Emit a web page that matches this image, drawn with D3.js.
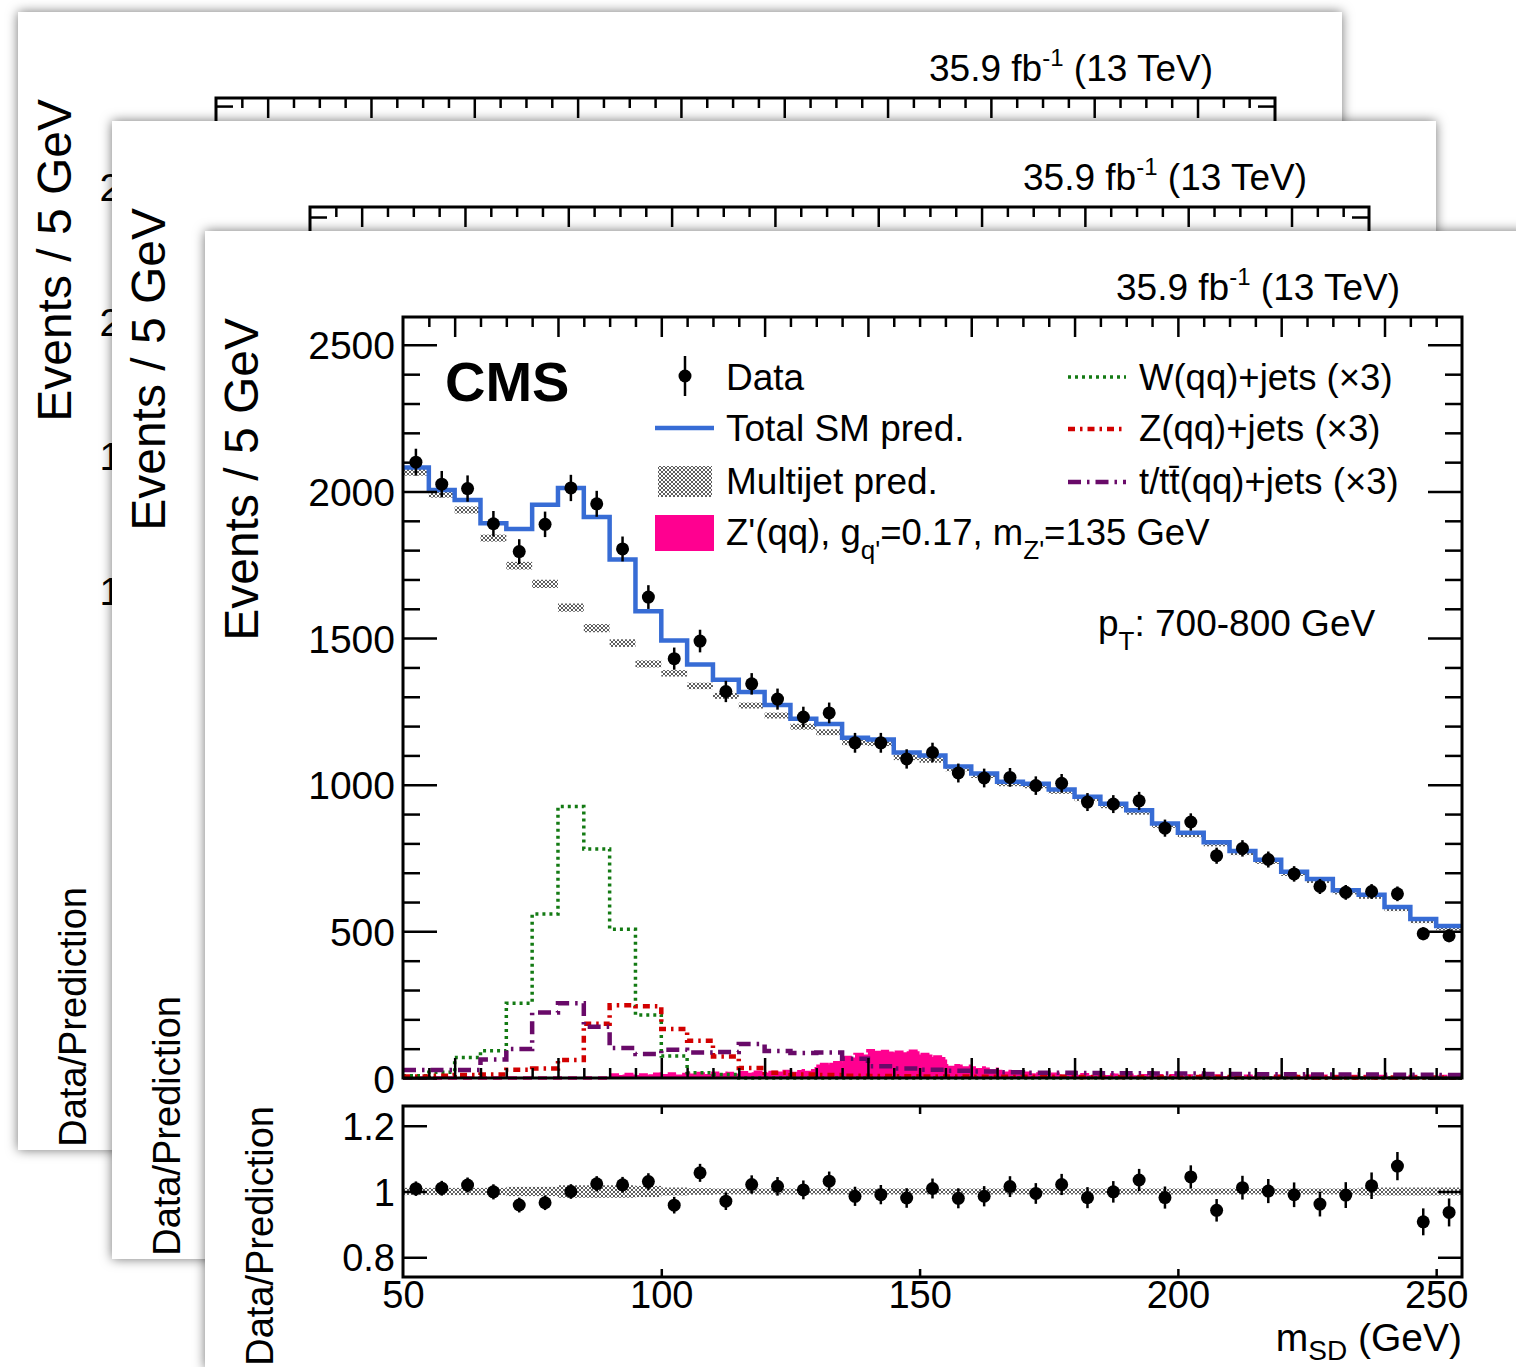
<!DOCTYPE html>
<html>
<head>
<meta charset="utf-8">
<title>Soft-drop jet mass, pT 700-800 GeV</title>
<script src="https://cdn.jsdelivr.net/npm/d3@7"></script>
<style>
  html, body { margin: 0; padding: 0; background: #ffffff; }
  svg { display: block; }
</style>
</head>
<body>
<svg id="figure" width="1516" height="1367"></svg>
<script>
// ---------------------------------------------------------------------------
// Soft-drop mass histogram, 5 GeV bins (low edges in GeV)
const binLow = [50,55,60,65,70,75,80,85,90,95,100,105,110,115,120,125,130,135,140,145,
                150,155,160,165,170,175,180,185,190,195,200,205,210,215,220,225,230,235,240,245,250];
const binWidth = 5;

// Observed events per bin
const dataCounts = [2100,2025,2010,1890,1795,1888,2012,1958,1804,1640,1430,1490,1318,1344,1292,
                    1231,1245,1143,1143,1088,1110,1040,1023,1025,997,1005,941,934,945,852,
                    873,758,783,745,696,653,633,636,628,492,485];

// Total SM prediction per bin
const totalPred = [2082,2005,1971,1892,1872,1955,2012,1913,1768,1592,1492,1410,1358,1316,1272,
                   1225,1207,1160,1154,1110,1100,1062,1038,1010,1003,984,959,935,913,868,
                   836,804,774,744,703,679,640,625,583,542,518];

// Multijet prediction and its uncertainty (half-width, events)
const multijet = [2066,1991,1937,1841,1747,1685,1604,1534,1483,1412,1380,1337,1303,1270,1236,
                  1198,1179,1145,1142,1094,1085,1055,1032,1004,997,978,953,929,907,862,
                  830,798,768,738,697,673,634,619,577,536,512];
const multijetErr = [12,12,12,12,13,14,14,14,13,12,11,11,10,10,10,10,10,10,10,10,
                     10,9,9,9,9,9,9,9,9,9,9,8,8,8,8,8,8,8,8,8,8];

// Relative prediction uncertainty shown in the ratio panel (half-width)
const ratioBandErr = [0.011,0.011,0.011,0.011,0.014,0.014,0.019,0.019,0.019,0.017,0.012,0.010,
                      0.009,0.009,0.009,0.009,0.009,0.009,0.009,0.009,0.009,0.009,0.009,0.009,
                      0.009,0.009,0.009,0.009,0.009,0.009,0.009,0.009,0.009,0.009,0.009,0.009,
                      0.009,0.012,0.012,0.012,0.012];

// Resonant backgrounds, each scaled by 3 for display
const wJetsX3 = [8,20,70,93,255,559,926,781,507,215,75,18,12,0,0,0,0,0,0,0,
                 0,0,0,0,0,0,0,0,0,0,0,0,0,0,0,0,0,0,0,0,0];
const zJetsX3 = [5,8,10,12,28,32,61,185,248,245,167,127,73,34,18,12,10,8,7,6,
                 5,5,4,4,4,4,3,3,3,3,3,3,3,3,3,2,2,2,2,2,2];
const topJetsX3 = [27,27,27,63,99,223,255,175,102,82,96,87,89,116,92,85,87,66,40,32,
                   28,25,22,20,18,18,17,16,16,15,15,14,14,13,13,12,12,12,11,11,10];

// Z' signal template, 2.5 GeV bins (low edges in GeV)
const sigLow = [50,52.5,55,57.5,60,62.5,65,67.5,70,72.5,75,77.5,80,82.5,85,87.5,
                90,92.5,95,97.5,100,102.5,105,107.5,110,112.5,
                115,117.5,120,122.5,125,127.5,130,132.5,135,137.5,
                140,142.5,145,147.5,150,152.5,155,157.5,160,162.5,
                165,167.5,170,172.5,175,177.5,180,182.5,185,187.5,
                190,192.5,195,197.5,200,202.5,205,207.5,210,212.5,
                215,217.5,220,222.5,225,227.5,230,232.5,235,237.5,
                240,242.5,245,247.5,250,252.5];
const sigWidth = 2.5;
const sigCounts = [0,0,0,0,0,0,0,0,0,0,0,0,0,0,0,0,
                   10,12,10,13,14,12,15,14,16,15,
                   18,20,19,22,21,25,46,52,70,80,
                   93,90,88,91,80,72,42,40,34,30,
                   22,19,16,14,13,12,11,10,10,9,
                   9,8,8,8,7,7,7,7,7,6,
                   6,6,6,6,6,6,5,5,5,5,
                   5,5,5,5,5,5];

// Axis ticks and labels
const xLabelTicks = [50,100,150,200,250];
const xMajorTicks = [60,80,100,120,140,160,180,200,220,240];
const ratioXTicks = [100,150,200,250];
const ratioYTicks = [0.8,1,1.2];
const ratioYLabels = ["0.8","1","1.2"];
const mainYTicks = [0,500,1000,1500,2000,2500];

// ---------------------------------------------------------------------------
const FONT = '"Liberation Sans", Arial, Helvetica, sans-serif';
const CARD = { w: 1324, h: 1138 };
const FR = { left: 198, right: 1257, top: 86, bottom: 847 };   // upper pad frame
const RP = { top: 875, bottom: 1046 };                          // ratio pad frame

const COL = {
  total: "#376cd5", w: "#137a13", z: "#d20000", top: "#690a69",
  sig: "#ff0090", tick: "#000"
};

// Three stacked pages; the pages behind only show their top and left margins
const cards = [
  { ox: 18,  oy: 12,  yMax: 28300, yMajor: [0,5000,10000,15000,20000,25000], yMinorStep: 1000,
    front: false, yLabels: true },
  { ox: 112, oy: 121, yMax: 7600,  yMajor: [0,2000,4000,6000],               yMinorStep: 500,
    front: false, yLabels: false },
  { ox: 205, oy: 231, yMax: 2595,  yMajor: mainYTicks,                        yMinorStep: 100,
    front: true, yLabels: true }
];

const svg = d3.select("#figure");
const defs = svg.append("defs");

const shadow = defs.append("filter").attr("id", "cardShadow")
  .attr("x", "-4%").attr("y", "-4%").attr("width", "108%").attr("height", "108%");
shadow.append("feDropShadow").attr("dx", 0).attr("dy", 0).attr("stdDeviation", 6)
  .attr("flood-color", "#000").attr("flood-opacity", 0.55);

const pat = defs.append("pattern").attr("id", "mjFill")
  .attr("patternUnits", "userSpaceOnUse").attr("width", 4).attr("height", 4);
pat.append("rect").attr("width", 4).attr("height", 4).attr("fill", "#fff");
pat.append("rect").attr("width", 2).attr("height", 2).attr("fill", "#5e5e5e");
pat.append("rect").attr("x", 2).attr("y", 2).attr("width", 2).attr("height", 2).attr("fill", "#5e5e5e");

const intFmt = d3.format("d");

function stepPoints(lows, width, vals) {
  const pts = [];
  lows.forEach((l, i) => { pts.push([l, vals[i]]); pts.push([l + width, vals[i]]); });
  return pts;
}

function styleAxis(a, fontSize) {
  a.attr("font-size", null).attr("font-family", null);
  a.select(".domain").remove();
  a.selectAll(".tick line").attr("stroke", COL.tick).attr("stroke-width", 2.5);
  a.selectAll(".tick text").attr("fill", "#000").attr("font-family", FONT).attr("font-size", fontSize);
  return a;
}

function addAxis(g, axis, tx, ty, fontSize) {
  return styleAxis(g.append("g").attr("transform", `translate(${tx},${ty})`).call(axis), fontSize || 39);
}

// text with sub/superscripts: parts = [[string, "sub"|"sup"|null], ...]
function richText(g, x, y, parts, size, anchor, subSize, shift) {
  const t = g.append("text").attr("x", x).attr("y", y)
    .attr("font-family", FONT).attr("font-size", size).attr("fill", "#000")
    .attr("text-anchor", anchor || "start");
  let cur = 0;
  parts.forEach(([s, kind]) => {
    const target = kind === "sub" ? shift : kind === "sup" ? -shift * 1.1 : 0;
    const sp = t.append("tspan").attr("dy", target - cur).text(s);
    if (kind) sp.attr("font-size", subSize);
    cur = target;
  });
  return t;
}

function drawCard(spec) {
  const g = svg.append("g").attr("transform", `translate(${spec.ox},${spec.oy})`);
  g.append("rect").attr("width", CARD.w).attr("height", CARD.h)
    .attr("fill", "#fff").attr("filter", "url(#cardShadow)");

  const x = d3.scaleLinear().domain([50, 255]).range([FR.left, FR.right]);
  const y = d3.scaleLinear().domain([0, spec.yMax]).range([FR.bottom, FR.top]);
  const yr = d3.scaleLinear().domain([0.74, 1.26]).range([RP.bottom, RP.top]);

  if (spec.front) drawContents(g, x, y, yr);

  // ---- frames ----
  g.append("rect").attr("x", FR.left).attr("y", FR.top)
    .attr("width", FR.right - FR.left).attr("height", FR.bottom - FR.top)
    .attr("fill", "none").attr("stroke", "#000").attr("stroke-width", 3);
  g.append("rect").attr("x", FR.left).attr("y", RP.top)
    .attr("width", FR.right - FR.left).attr("height", RP.bottom - RP.top)
    .attr("fill", "none").attr("stroke", "#000").attr("stroke-width", 3);

  // ---- upper pad axes (ticks point inward) ----
  const xMinor = d3.range(55, 255, 5).filter(v => !xMajorTicks.includes(v));
  [[d3.axisTop, FR.top], [d3.axisBottom, FR.bottom]].forEach(([ax, ty]) => {
    addAxis(g, ax(x).tickValues(xMajorTicks).tickSizeInner(-20).tickSizeOuter(0).tickFormat(""), 0, ty);
    addAxis(g, ax(x).tickValues(xMinor).tickSizeInner(-10).tickSizeOuter(0).tickFormat(""), 0, ty);
  });
  const yMinor = d3.range(0, spec.yMax, spec.yMinorStep).filter(v => !spec.yMajor.includes(v));
  const yLeft = d3.axisLeft(y).tickValues(spec.yMajor).tickSizeInner(-34).tickSizeOuter(0).tickPadding(8)
    .tickFormat(spec.yLabels ? intFmt : "");
  addAxis(g, yLeft, FR.left, 0, 39).selectAll(".tick text").attr("dy", "0.36em");
  addAxis(g, d3.axisLeft(y).tickValues(yMinor).tickSizeInner(-17).tickSizeOuter(0).tickFormat(""), FR.left, 0);
  addAxis(g, d3.axisRight(y).tickValues(spec.yMajor).tickSizeInner(-34).tickSizeOuter(0).tickFormat(""), FR.right, 0);
  addAxis(g, d3.axisRight(y).tickValues(yMinor).tickSizeInner(-17).tickSizeOuter(0).tickFormat(""), FR.right, 0);

  // ---- ratio pad axes ----
  addAxis(g, d3.axisTop(x).tickValues(ratioXTicks).tickSizeInner(-8).tickSizeOuter(0).tickFormat(""), 0, RP.top);
  addAxis(g, d3.axisBottom(x).tickValues(ratioXTicks).tickSizeInner(-8).tickSizeOuter(0).tickFormat(""), 0, RP.bottom);
  addAxis(g, d3.axisLeft(yr).tickValues(ratioYTicks).tickSizeInner(-24).tickSizeOuter(0).tickPadding(8)
      .tickFormat((d, i) => spec.front ? ratioYLabels[i] : ""), FR.left, 0, 38)
    .selectAll(".tick text").attr("dy", "0.36em");
  addAxis(g, d3.axisRight(yr).tickValues(ratioYTicks).tickSizeInner(-24).tickSizeOuter(0).tickFormat(""), FR.right, 0);

  // ---- titles ----
  g.append("text").attr("transform", `translate(53,${FR.top + 1}) rotate(-90)`)
    .attr("text-anchor", "end").attr("font-family", FONT).attr("font-size", 48).text("Events / 5 GeV");
  g.append("text").attr("transform", `translate(68,${RP.top}) rotate(-90)`)
    .attr("text-anchor", "end").attr("font-family", FONT).attr("font-size", 38).text("Data/Prediction");
  richText(g, 1195, 69, [["35.9 fb", null], ["-1", "sup"], [" (13 TeV)", null]], 37, "end", 24, 14);

  if (spec.front) {
    addAxis(g, d3.axisBottom(x).tickValues(xLabelTicks).tickSizeInner(0).tickSizeOuter(0).tickPadding(4),
      0, RP.bottom, 38);
    richText(g, FR.right, 1120, [["m", null], ["SD", "sub"], [" (GeV)", null]], 39, "end", 28, 9);
  }
}

function drawContents(g, x, y, yr) {
  const line = d3.line().x(d => x(d[0])).y(d => y(d[1]));

  // multijet prediction with its uncertainty
  g.append("g").selectAll("rect").data(binLow).join("rect")
    .attr("x", d => x(d)).attr("width", d => x(d + binWidth) - x(d))
    .attr("y", (d, i) => y(multijet[i] + multijetErr[i]))
    .attr("height", (d, i) => y(multijet[i] - multijetErr[i]) - y(multijet[i] + multijetErr[i]))
    .attr("fill", "url(#mjFill)");

  // Z' signal, filled
  const sigPts = stepPoints(sigLow, sigWidth, sigCounts);
  g.append("path").datum(sigPts)
    .attr("d", d3.area().x(d => x(d[0])).y0(y(0)).y1(d => y(d[1])))
    .attr("fill", COL.sig);
  g.append("path").datum(sigPts).attr("d", line)
    .attr("fill", "none").attr("stroke", COL.sig).attr("stroke-width", 3.5).attr("stroke-dasharray", "9,6");

  // scaled resonant backgrounds
  const bkg = [
    [wJetsX3, COL.w, 3.5, "3,4"],
    [zJetsX3, COL.z, 4.5, "7,5,2.5,5"],
    [topJetsX3, COL.top, 4.5, "13,6,2.5,6"]
  ];
  bkg.forEach(([vals, c, w, dash]) => {
    g.append("path").datum(stepPoints(binLow, binWidth, vals)).attr("d", line)
      .attr("fill", "none").attr("stroke", c).attr("stroke-width", w).attr("stroke-dasharray", dash);
  });

  // total SM prediction
  g.append("path").datum(stepPoints(binLow, binWidth, totalPred)).attr("d", line)
    .attr("fill", "none").attr("stroke", COL.total).attr("stroke-width", 4.5);

  // data with Poisson uncertainties
  const pts = binLow.map((l, i) => ({ c: l + binWidth / 2, n: dataCounts[i], e: Math.sqrt(dataCounts[i]) }));
  const dg = g.append("g");
  dg.selectAll("line").data(pts).join("line")
    .attr("x1", d => x(d.c)).attr("x2", d => x(d.c))
    .attr("y1", d => y(d.n - d.e)).attr("y2", d => y(d.n + d.e))
    .attr("stroke", "#000").attr("stroke-width", 2.5);
  dg.selectAll("circle").data(pts).join("circle")
    .attr("cx", d => x(d.c)).attr("cy", d => y(d.n)).attr("r", 6.5).attr("fill", "#000");

  // ---- ratio pad ----
  g.append("g").selectAll("rect").data(binLow).join("rect")
    .attr("x", d => x(d)).attr("width", d => x(d + binWidth) - x(d))
    .attr("y", (d, i) => yr(1 + ratioBandErr[i]))
    .attr("height", (d, i) => yr(1 - ratioBandErr[i]) - yr(1 + ratioBandErr[i]))
    .attr("fill", "url(#mjFill)");
  const rpts = binLow.map((l, i) => ({
    c: l + binWidth / 2, r: dataCounts[i] / totalPred[i], e: Math.sqrt(dataCounts[i]) / totalPred[i]
  }));
  const rg = g.append("g");
  rg.selectAll("line").data(rpts).join("line")
    .attr("x1", d => x(d.c)).attr("x2", d => x(d.c))
    .attr("y1", d => yr(d.r - d.e)).attr("y2", d => yr(d.r + d.e))
    .attr("stroke", "#000").attr("stroke-width", 2.5);
  rg.selectAll("circle").data(rpts).join("circle")
    .attr("cx", d => x(d.c)).attr("cy", d => yr(d.r)).attr("r", 6.5).attr("fill", "#000");

  // ---- labels ----
  g.append("text").attr("x", 240).attr("y", 170).attr("font-family", FONT)
    .attr("font-weight", "bold").attr("font-size", 56).text("CMS");
  richText(g, 893, 405, [["p", null], ["T", "sub"], [": 700-800 GeV", null]], 37, "start", 26, 14);

  // ---- legend ----
  const lg = g.append("g");
  lg.append("line").attr("x1", 480).attr("x2", 480).attr("y1", 125).attr("y2", 165)
    .attr("stroke", "#000").attr("stroke-width", 2.5);
  lg.append("circle").attr("cx", 480).attr("cy", 145).attr("r", 6.5).attr("fill", "#000");
  lg.append("line").attr("x1", 450).attr("x2", 509).attr("y1", 197).attr("y2", 197)
    .attr("stroke", COL.total).attr("stroke-width", 4.5);
  lg.append("rect").attr("x", 453).attr("y", 235).attr("width", 54).attr("height", 31).attr("fill", "url(#mjFill)");
  lg.append("rect").attr("x", 450).attr("y", 284).attr("width", 59).attr("height", 36).attr("fill", COL.sig);

  richText(lg, 521, 159, [["Data", null]], 37);
  richText(lg, 521, 210, [["Total SM pred.", null]], 37);
  richText(lg, 521, 263, [["Multijet pred.", null]], 37);
  richText(lg, 521, 314, [["Z'(qq), g", null], ["q'", "sub"], ["=0.17, m", null], ["Z'", "sub"], ["=135 GeV", null]],
    36.5, "start", 26, 14);

  const rows = [
    [146, COL.w, 3.5, "3,4"],
    [198, COL.z, 4.5, "7,5,2.5,5"],
    [251, COL.top, 4.5, "13,6,2.5,6"]
  ];
  rows.forEach(([yy, c, w, dash]) => {
    lg.append("line").attr("x1", 863).attr("x2", 921).attr("y1", yy).attr("y2", yy)
      .attr("stroke", c).attr("stroke-width", w).attr("stroke-dasharray", dash);
  });
  richText(lg, 934, 159, [["W(qq)+jets (\u00d73)", null]], 36.5);
  richText(lg, 934, 210, [["Z(qq)+jets (\u00d73)", null]], 36.5);
  richText(lg, 934, 263, [["t/t", null], ["t\u0304", null], ["(qq)+jets (\u00d73)", null]], 36.5);
}

cards.forEach(drawCard);
</script>
</body>
</html>
